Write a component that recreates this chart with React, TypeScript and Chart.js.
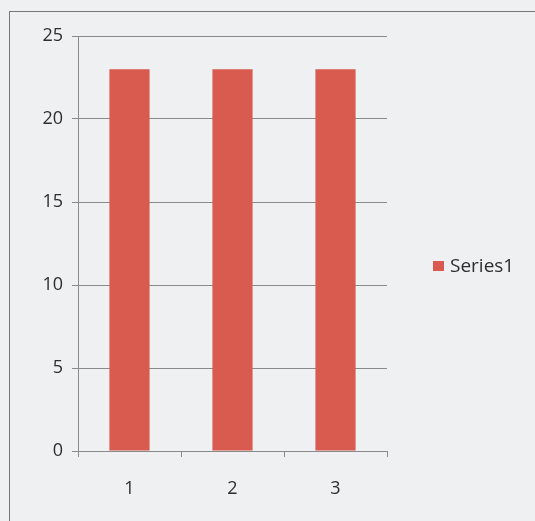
import React, { useEffect, useRef } from "react";
import { Chart, registerables } from "chart.js";

Chart.register(...registerables);

const categories = ["1", "2", "3"];
const seriesName = "Series1";
const seriesValues = [23, 23, 23];
const yTicks = [0, 5, 10, 15, 20, 25];

const BAR_COLOR = "#d95a4e";
const GRID_COLOR = "#8a8a8a";
const TEXT_COLOR = "#2e2e2e";
const FONT = "'Open Sans', 'Liberation Sans', sans-serif";

const legendPlugin = {
  id: "sideLegend",
  afterDraw(chart: any) {
    const ctx = chart.ctx;
    const ds = chart.data.datasets[0];
    ctx.save();
    ctx.fillStyle = ds.backgroundColor;
    ctx.fillRect(433, 261, 11, 10);
    ctx.fillStyle = TEXT_COLOR;
    ctx.font = `19px ${FONT}`;
    ctx.textBaseline = "middle";
    ctx.textAlign = "left";
    ctx.fillText(ds.label, 450, 267);
    ctx.restore();
  },
};

export default function App() {
  const ref = useRef<HTMLCanvasElement | null>(null);

  useEffect(() => {
    document.body.style.margin = "0";
    document.body.style.background = "#eef0f1";
    const chart = new Chart(ref.current as HTMLCanvasElement, {
      type: "bar",
      data: {
        labels: categories,
        datasets: [
          {
            label: seriesName,
            data: seriesValues,
            backgroundColor: BAR_COLOR,
            borderWidth: 0,
            categoryPercentage: 1,
            barPercentage: 0.39,
          },
        ],
      },
      options: {
        animation: false,
        responsive: false,
        maintainAspectRatio: false,
        layout: { padding: { left: 0, top: 36, right: 148, bottom: 0 } },
        plugins: {
          legend: { display: false },
          tooltip: { enabled: false },
        },
        scales: {
          x: {
            offset: true,
            grid: {
              offset: true,
              drawOnChartArea: false,
              drawTicks: true,
              tickLength: 6,
              color: GRID_COLOR,
            },
            border: { display: true, color: GRID_COLOR },
            ticks: {
              color: TEXT_COLOR,
              font: { size: 18, family: FONT },
              padding: 21,
              maxRotation: 0,
            },
            afterFit: (s: any) => {
              s.height = 70;
            },
          },
          y: {
            min: 0,
            max: 25,
            afterBuildTicks: (s: any) => {
              s.ticks = yTicks.map((v) => ({ value: v }));
            },
            grid: {
              color: GRID_COLOR,
              tickLength: 6,
              drawTicks: true,
            },
            border: { display: true, color: GRID_COLOR },
            ticks: {
              color: TEXT_COLOR,
              font: { size: 18, family: FONT },
              padding: 9,
            },
            afterFit: (s: any) => {
              s.width = 78;
            },
          },
        },
      },
      plugins: [legendPlugin],
    });
    return () => chart.destroy();
  }, []);

  return (
    <div style={{ position: "relative", width: 535, height: 521, overflow: "hidden", background: "#eef0f1" }}>
      <div
        style={{
          position: "absolute",
          left: 9,
          top: 11,
          width: 600,
          height: 600,
          borderLeft: "1px solid #777",
          borderTop: "1px solid #777",
        }}
      />
      <canvas ref={ref} width={535} height={521} style={{ position: "absolute", left: 0, top: 0 }} />
    </div>
  );
}
